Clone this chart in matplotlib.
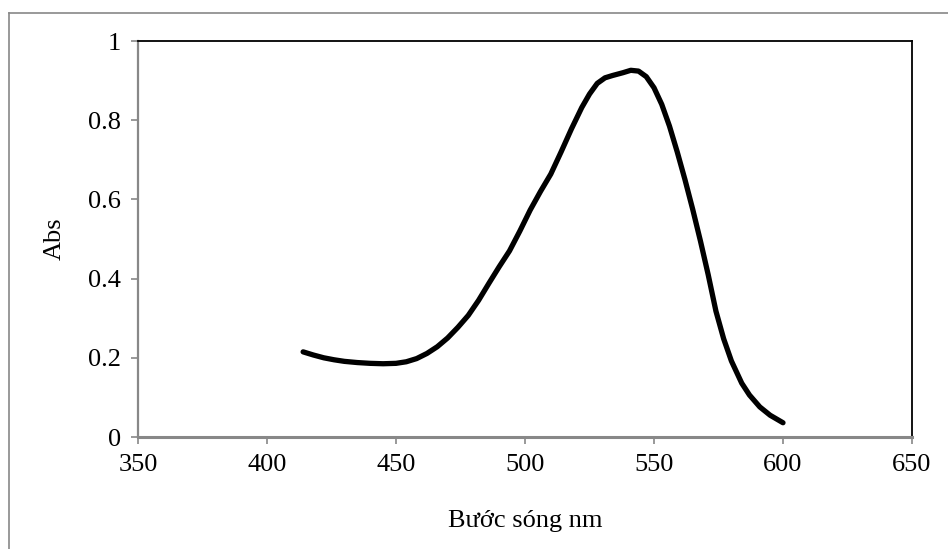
import matplotlib
matplotlib.use('Agg')
import matplotlib.pyplot as plt
from matplotlib.lines import Line2D

# absorbance spectrum
wavelength = [414, 418, 422, 426, 430, 435, 440, 445, 450, 454, 458, 462, 466,
              470, 474, 478, 482, 486, 490, 494, 498, 502, 506, 510, 514, 518,
              522, 525, 528, 531, 534, 538, 541, 544, 547, 550, 553, 556, 559,
              562, 565, 568, 571, 574, 577, 580, 584, 587, 591, 595, 600]
absorbance = [0.215, 0.207, 0.200, 0.195, 0.191, 0.188, 0.186, 0.185, 0.186,
              0.190, 0.198, 0.211, 0.228, 0.250, 0.277, 0.307, 0.345, 0.388,
              0.430, 0.470, 0.520, 0.573, 0.620, 0.664, 0.720, 0.778, 0.832,
              0.866, 0.893, 0.907, 0.913, 0.920, 0.926, 0.924, 0.910, 0.882,
              0.840, 0.785, 0.720, 0.650, 0.575, 0.495, 0.410, 0.318, 0.248,
              0.192, 0.136, 0.106, 0.076, 0.055, 0.036]
x_ticks = [350, 400, 450, 500, 550, 600, 650]
y_ticks = [0, 0.2, 0.4, 0.6, 0.8, 1]
y_ticklabels = ['0', '0.2', '0.4', '0.6', '0.8', '1']

plt.rcParams['font.family'] = ['Liberation Serif', 'DejaVu Serif']

W, H = 948, 549
fig = plt.figure(figsize=(W / 100, H / 100), dpi=100)
ax = fig.add_axes([138 / W, 1 - 437 / H, (912 - 138) / W, (437 - 41) / H])

ax.plot(wavelength, absorbance, color='black', lw=3.8, solid_capstyle='round',
        solid_joinstyle='round')

ax.set_xlim(350, 650)
ax.set_ylim(0, 1)
ax.set_xticks(x_ticks)
ax.set_yticks(y_ticks)
ax.set_yticklabels(y_ticklabels)

gray = '#888888'
ax.spines['left'].set_color(gray)
ax.spines['left'].set_linewidth(1.6)
ax.spines['bottom'].set_color(gray)
ax.spines['bottom'].set_linewidth(2.2)
ax.spines['top'].set_color('black')
ax.spines['top'].set_linewidth(1.3)
ax.spines['right'].set_color('black')
ax.spines['right'].set_linewidth(1.3)
ax.tick_params(direction='out', length=5, width=1.2, color=gray,
               labelsize=19, pad=7)

ax.set_xlabel('Bước sóng nm', fontsize=19, labelpad=25)
ax.set_ylabel('Abs', fontsize=19, labelpad=16)

# outer chart frame (cut off at right and bottom)
fig.add_artist(Line2D([8.5 / W, 1.01], [1 - 12.5 / H, 1 - 12.5 / H],
                      transform=fig.transFigure, color=gray, lw=1.2))
fig.add_artist(Line2D([8.5 / W, 8.5 / W], [-0.01, 1 - 12.5 / H],
                      transform=fig.transFigure, color=gray, lw=1.2))

fig.savefig('out.png', dpi=100)
